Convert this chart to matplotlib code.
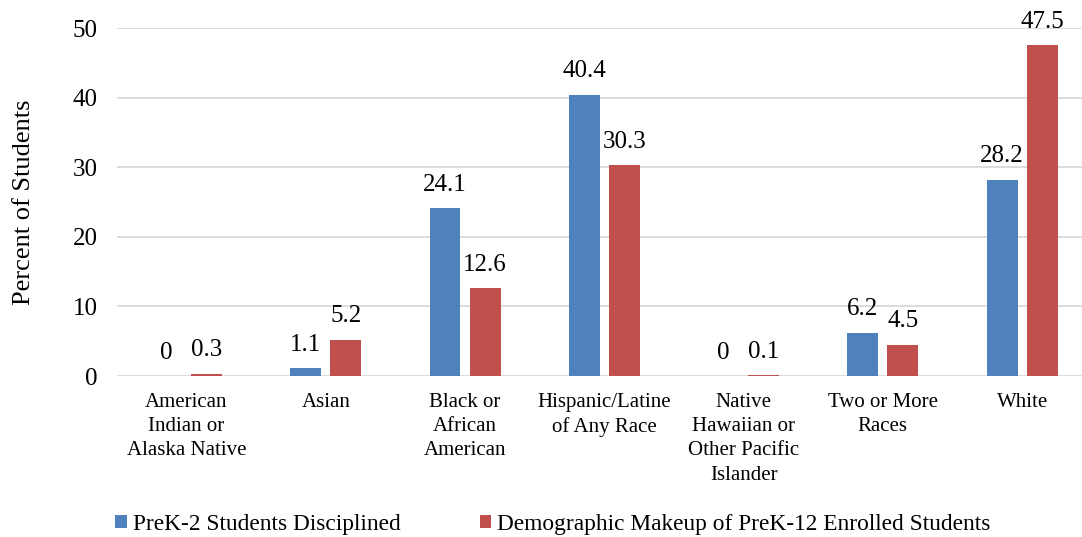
import numpy as np
import matplotlib.pyplot as plt

plt.rcParams['font.family'] = ['Liberation Serif', 'DejaVu Serif']

# Race/ethnicity groups and the two percentage series
categories = ['American\nIndian or\nAlaska Native', 'Asian', 'Black or\nAfrican\nAmerican',
              'Hispanic/Latine\nof Any Race', 'Native\nHawaiian or\nOther Pacific\nIslander',
              'Two or More\nRaces', 'White']
disciplined = [0, 1.1, 24.1, 40.4, 0, 6.2, 28.2]
enrolled = [0.3, 5.2, 12.6, 30.3, 0.1, 4.5, 47.5]
labels_disciplined = ['0', '1.1', '24.1', '40.4', '0', '6.2', '28.2']
labels_enrolled = ['0.3', '5.2', '12.6', '30.3', '0.1', '4.5', '47.5']

blue = '#4F81BD'
red = '#C0504D'

fig = plt.figure(figsize=(10.82, 5.37), dpi=100)
ax = fig.add_axes([0.108, 0.2998, 0.892, 0.648])

x = np.arange(len(categories))
w = 0.222
off = 0.144
b1 = ax.bar(x - off, disciplined, w, color=blue, label='PreK-2 Students Disciplined', zorder=3)
b2 = ax.bar(x + off, enrolled, w, color=red,
            label='Demographic Makeup of PreK-12 Enrolled Students', zorder=3)

ax.bar_label(b1, labels=labels_disciplined, padding=9, fontsize=18)
ax.bar_label(b2, labels=labels_enrolled, padding=9, fontsize=18)

ax.set_ylim(0, 50)
ax.set_xlim(-0.5, 6.43)
ax.set_yticks(range(0, 51, 10))
ax.tick_params(axis='y', labelsize=18, length=0, pad=14)
ax.set_xticks(x)
ax.set_xticklabels(categories, fontsize=15, linespacing=1.38)
ax.tick_params(axis='x', length=0, pad=12)
ax.grid(axis='y', color='#D9D9D9', linewidth=1.3, zorder=0)
for s in ax.spines.values():
    s.set_visible(False)
ax.set_ylabel('Percent of Students', fontsize=19, labelpad=27)

fig.legend(handles=[b1, b2], loc='lower center', bbox_to_anchor=(0.511, -0.035), ncol=2,
           frameon=False, fontsize=16.8, handlelength=0.5, handleheight=0.5,
           handletextpad=0.25, columnspacing=3.4)

fig.savefig('out.png', dpi=100)
